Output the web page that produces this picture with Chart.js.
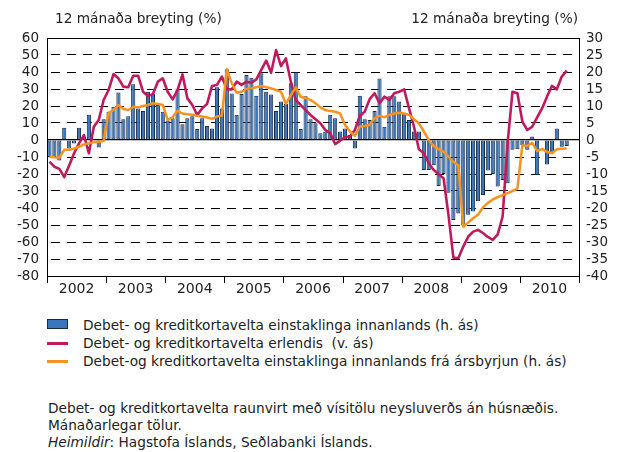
<!DOCTYPE html>
<html>
<head>
<meta charset="utf-8">
<script src="https://cdn.jsdelivr.net/npm/chart.js@4.4.0/dist/chart.umd.min.js"></script>
<style>
body { margin:0; width:622px; height:452px; background:#fff; position:relative; overflow:hidden; font-family:'DejaVu Sans', sans-serif; color:#222; }
#wrap { position:absolute; left:0; top:0; width:622px; height:300px; }
.t { position:absolute; font-size:13.7px; line-height:16px; white-space:nowrap; }
.sw { position:absolute; box-sizing:border-box; }
</style>
</head>
<body>
<div id="wrap"><canvas id="chart" width="622" height="300"></canvas></div>
<div class="t" style="left:55px;top:10px;">12 mánaða breyting (%)</div>
<div class="t" style="right:44px;top:10px;">12 mánaða breyting (%)</div>

<div class="sw" style="left:47px;top:319px;width:21px;height:10px;background:#3a76bd;border:1px solid #1a2a40;"></div>
<div class="t" style="left:83px;top:317px;">Debet- og kreditkortavelta einstaklinga innanlands (h. ás)</div>
<div class="sw" style="left:47px;top:342px;width:21px;height:2.5px;background:#c2185e;"></div>
<div class="t" style="left:83px;top:335px;">Debet- og kreditkortavelta erlendis&nbsp; (v. ás)</div>
<div class="sw" style="left:47px;top:360px;width:21px;height:2.5px;background:#f7931e;"></div>
<div class="t" style="left:83px;top:353px;">Debet-og kreditkortavelta einstaklinga innanlands frá ársbyrjun (h. ás)</div>

<div class="t" style="left:48px;top:400px;">Debet- og kreditkortavelta raunvirt með vísitölu neysluverðs án húsnæðis.</div>
<div class="t" style="left:48px;top:417px;">Mánaðarlegar tölur.</div>
<div class="t" style="left:48px;top:434px;"><i>Heimildir</i>: Hagstofa Íslands, Seðlabanki Íslands.</div>

<script>
// years shown on the axis, data is monthly from Jan 2002
const years = ['2002', '2003', '2004', '2005', '2006', '2007', '2008', '2009', '2010'];

// domestic card turnover, 12 month change (right axis)
const domestic = [
    -5, -5, -6, 3.6, -2.5, -1, 3.6, 1, 7.4, 0, -2.2, 6.1,
    8.3, 9.8, 14, 6.1, 7, 16.4, 9.3, 8.5, 14.2, 13.5, 10.3, 8.3,
    5.7, 6.4, 14.9, 4.6, 6.4, 7, 3.2, 6.4, 4.1, 3.4, 15.5, 9.3,
    20.8, 13.7, 7.4, 13.5, 19.1, 18.3, 13, 19.6, 14.2, 13.4, 8.5, 11.3,
    10.6, 16.7, 19.9, 3.2, 12.9, 6.1, 4.9, 2, 2.5, 7.4, 6.4, 2.5,
    3.4, 1.5, -2.5, 13, 6.1, 5.9, 8.5, 18.1, 3.9, 12.9, 12.9, 11.3,
    7.8, 5.9, 2.5, 2.5, -8.8, -8.8, -7.4, -13.5, -10, -15.5, -23.5, -21.6,
    -25, -22, -21, -18, -16.2, -9, -10, -13.7, -11.8, -12.7, -2.9, -2.7,
    -1.5, -2.9, 1, -10.3, 0.3, -7.2, -3.9, 3.4, -2, -1.8
];

// card turnover abroad (left axis)
const abroad = [
    -12.7, -15.7, -17, -21.8, -15, -7.8, -2, 2.9, -7.8, 7.8, 11.8, 23.5,
    29.4, 38.8, 36.3, 31.4, 31, 37.8, 37.8, 28.4, 25.9, 27, 34.3, 36.3,
    28.4, 23.9, 29.4, 38.6, 24.5, 20.6, 14.7, 18.6, 21.2, 31.8, 32.4, 37.3,
    29.8, 29.8, 34.3, 32.4, 34.3, 33.7, 35.7, 41.2, 46.7, 39.6, 52.9, 43.5,
    48, 34.3, 23.5, 20.6, 17.6, 14.7, 12.2, 9.8, 5.9, 3.9, -2.4, -0.4,
    1.6, 2, 5.9, 14.1, 16.7, 24, 27.5, 21.6, 25.5, 23.5, 27.5, 28.4,
    29.8, 18.6, 7.8, -5.5, -7.8, -13.7, -17.6, -20, -22.5, -44, -69.2, -69.6,
    -62.7, -56.9, -53.9, -52.9, -54.7, -57, -58.7, -55.5, -45, -2, 28.4, 27.5,
    10.8, 5.9, 7.8, 13.3, 18.6, 25.5, 31.8, 29.8, 37.3, 40.8
];

// domestic turnover, year to date (right axis)
const ytd = [
    -4.9, -5.1, -5.2, -2.9, -2.9, -2.5, -2, -1.3, -1, -0.7, -0.5, -0.3,
    8, 8.8, 10.3, 9.1, 8.8, 9.8, 9.6, 10, 10.3, 10.8, 10.6, 10.3,
    5.9, 6.7, 8.6, 7.8, 7.6, 7.4, 7.1, 6.9, 6.6, 6.2, 6.9, 7.2,
    20.8, 16.7, 13.9, 14.2, 15, 15.2, 15.5, 15.9, 15.5, 15.2, 14.7, 14.2,
    10.6, 13.2, 15.5, 12.7, 12.3, 11.8, 10.8, 9.6, 8.8, 8.5, 8.3, 7.8,
    4.4, 2.5, 1.2, 3.9, 4.1, 4.4, 6.4, 7.1, 6.7, 7.4, 7.8, 8,
    7.8, 7.4, 6.1, 4.9, 2.5, 0, -1.8, -2.7, -3.4, -4.9, -6.4, -7.4,
    -25.5, -24.3, -23, -22, -19.8, -18.5, -17.5, -16.8, -16.2, -15.6, -15, -14.3,
    -1.5, -1.8, -0.8, -3.3, -2.6, -3.5, -3.9, -2.7, -2.6, -2.5
];

const leftTicks = { min: -80, max: 60, step: 10 };
const rightTicks = { min: -40, max: 30, step: 5 };

// one label per month for the whole span of years
const months = [];
years.forEach(y => { for (let m = 1; m <= 12; m++) months.push(y + '-' + m); });

const FONT = "'DejaVu Sans', sans-serif";

// frame round the plot, year ticks and year labels under it
const framePlugin = {
    id: 'framePlugin',
    afterDraw(chart) {
        const { ctx, chartArea: a, scales: { x } } = chart;
        const half = (x.getPixelForValue(1) - x.getPixelForValue(0)) / 2;
        ctx.save();
        ctx.strokeStyle = '#000';
        ctx.lineWidth = 1;
        ctx.strokeRect(Math.round(a.left) + 0.5, Math.round(a.top) + 0.5,
            Math.round(a.right) - Math.round(a.left), Math.round(a.bottom) - Math.round(a.top));
        ctx.beginPath();
        for (let k = 0; k <= years.length; k++) {
            const px = Math.round(x.getPixelForValue(k * 12) - half) + 0.5;
            ctx.moveTo(px, a.bottom);
            ctx.lineTo(px, a.bottom + 7);
        }
        ctx.stroke();
        ctx.fillStyle = '#222';
        ctx.font = '14px ' + FONT;
        ctx.textAlign = 'center';
        ctx.textBaseline = 'middle';
        years.forEach((y, k) => {
            const c = (x.getPixelForValue(k * 12) + x.getPixelForValue(k * 12 + 11)) / 2;
            ctx.fillText(y, c, a.bottom + 13);
        });
        ctx.restore();
    }
};

new Chart(document.getElementById('chart'), {
    type: 'bar',
    data: {
        labels: months,
        datasets: [
            {
                type: 'line',
                label: 'Debet-og kreditkortavelta einstaklinga innanlands frá ársbyrjun (h. ás)',
                data: ytd,
                yAxisID: 'y1',
                borderColor: '#f7931e',
                borderWidth: 2.5,
                pointRadius: 0,
                tension: 0,
                borderJoinStyle: 'round',
                order: 1
            },
            {
                type: 'line',
                label: 'Debet- og kreditkortavelta erlendis (v. ás)',
                data: abroad,
                yAxisID: 'y',
                borderColor: '#c2185e',
                borderWidth: 2.6,
                pointRadius: 0,
                tension: 0,
                borderJoinStyle: 'round',
                order: 2
            },
            {
                label: 'Debet- og kreditkortavelta einstaklinga innanlands (h. ás)',
                data: domestic,
                yAxisID: 'y1',
                backgroundColor: '#3a76bd',
                borderColor: '#1a2a40',
                borderWidth: 1,
                borderSkipped: false,
                categoryPercentage: 1,
                barPercentage: 0.84,
                order: 3
            }
        ]
    },
    options: {
        responsive: false,
        animation: false,
        layout: { padding: { top: 38, bottom: 24, left: 0, right: 0 } },
        plugins: { legend: { display: false }, tooltip: { enabled: false } },
        scales: {
            x: { type: 'category', display: false, offset: true },
            y: {
                position: 'left',
                min: leftTicks.min,
                max: leftTicks.max,
                afterFit: s => { s.width = 47; },
                ticks: { stepSize: leftTicks.step, autoSkip: false, padding: 8, color: '#222', font: { family: FONT, size: 13.5 } },
                grid: {
                    color: '#000',
                    lineWidth: c => (c.tick && c.tick.value === 0) ? 1.3 : 1,
                    drawTicks: false
                },
                border: {
                    display: false,
                    dash: c => (c.tick && c.tick.value === 0) ? [] : [9, 7],
                    dashOffset: -4
                }
            },
            y1: {
                position: 'right',
                min: rightTicks.min,
                max: rightTicks.max,
                afterFit: s => { s.width = 43; },
                ticks: { stepSize: rightTicks.step, autoSkip: false, padding: 7, color: '#222', font: { family: FONT, size: 13.5 } },
                grid: { drawOnChartArea: false, drawTicks: false },
                border: { display: false }
            }
        }
    },
    plugins: [framePlugin]
});
</script>
</body>
</html>
